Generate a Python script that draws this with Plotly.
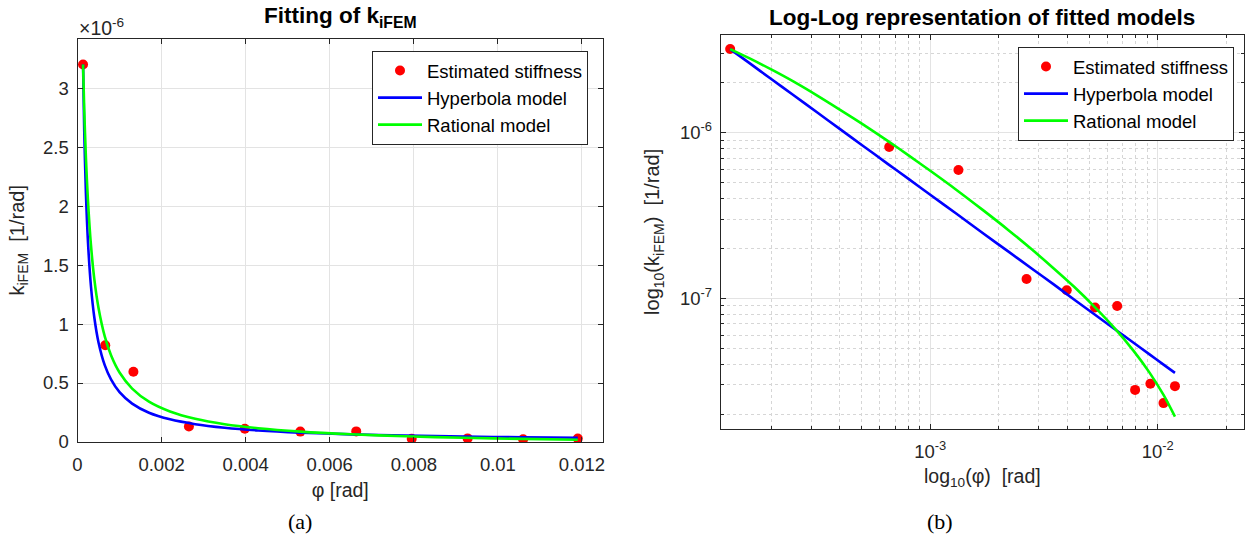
import plotly.graph_objects as go

# Estimated stiffness samples
phi_data = [1.32e-4, 6.6e-4, 1.33e-3, 2.65e-3, 3.98e-3, 5.3e-3, 6.63e-3, 7.95e-3, 9.28e-3, 1.06e-2, 1.19e-2]
k_data = [3.2e-6, 8.2e-7, 5.95e-7, 1.31e-7, 1.12e-7, 8.8e-8, 9.0e-8, 2.8e-8, 3.05e-8, 2.33e-8, 2.95e-8]

# Fitted model curves, sampled along phi
phi_fit = [1.32e-4, 1.6e-4, 2.0e-4, 2.5e-4, 3.2e-4, 4.0e-4, 5.0e-4, 6.5e-4, 8.0e-4, 1.0e-3, 1.3e-3,
           1.7e-3, 2.2e-3, 2.8e-3, 3.5e-3, 4.3e-3, 5.3e-3, 6.5e-3, 7.8e-3, 9.2e-3, 1.06e-2, 1.19e-2]
k_hyperbola = [3.20e-6, 2.64e-6, 2.11e-6, 1.69e-6, 1.32e-6, 1.055e-6, 8.44e-7, 6.49e-7, 5.28e-7, 4.22e-7, 3.25e-7,
               2.48e-7, 1.92e-7, 1.51e-7, 1.21e-7, 9.81e-8, 7.96e-8, 6.49e-8, 5.41e-8, 4.59e-8, 3.98e-8, 3.55e-8]
k_rational = [3.20e-6, 2.82e-6, 2.41e-6, 2.04e-6, 1.67e-6, 1.38e-6, 1.136e-6, 8.93e-7, 7.33e-7, 5.89e-7, 4.53e-7,
              3.42e-7, 2.59e-7, 1.97e-7, 1.51e-7, 1.17e-7, 8.82e-8, 6.54e-8, 4.85e-8, 3.56e-8, 2.61e-8, 1.93e-8]

# Tick values / labels
lin_xticks = [0, 0.002, 0.004, 0.006, 0.008, 0.01, 0.012]
lin_xtext = ["0", "0.002", "0.004", "0.006", "0.008", "0.01", "0.012"]
lin_yticks = [0, 0.5e-6, 1.0e-6, 1.5e-6, 2.0e-6, 2.5e-6, 3.0e-6]
lin_ytext = ["0", "0.5", "1", "1.5", "2", "2.5", "3"]
log_xticks = [1e-3, 1e-2]
log_xtext = ["10<sup>-3</sup>", "10<sup>-2</sup>"]
log_yticks = [1e-7, 1e-6]
log_ytext = ["10<sup>-7</sup>", "10<sup>-6</sup>"]
log_xminor = [2e-4, 3e-4, 4e-4, 5e-4, 6e-4, 7e-4, 8e-4, 9e-4,
              2e-3, 3e-3, 4e-3, 5e-3, 6e-3, 7e-3, 8e-3, 9e-3, 2e-2]
log_yminor = [2e-8, 3e-8, 4e-8, 5e-8, 6e-8, 7e-8, 8e-8, 9e-8,
              2e-7, 3e-7, 4e-7, 5e-7, 6e-7, 7e-7, 8e-7, 9e-7, 2e-6, 3e-6]

RED, BLUE, GREEN = "#ff0000", "#0000ff", "#00ff00"
INK = "#262626"
FONT = "Liberation Sans"

fig = go.Figure()

for xa, ya, lg in (("x", "y", "legend"), ("x2", "y2", "legend2")):
    fig.add_trace(go.Scatter(x=phi_data, y=k_data, mode="markers", name="Estimated stiffness",
                             marker=dict(color=RED, size=10), xaxis=xa, yaxis=ya, legend=lg))
    fig.add_trace(go.Scatter(x=phi_fit, y=k_hyperbola, mode="lines", name="Hyperbola model",
                             line=dict(color=BLUE, width=2.6, shape="spline", smoothing=0.8),
                             xaxis=xa, yaxis=ya, legend=lg))
    fig.add_trace(go.Scatter(x=phi_fit, y=k_rational, mode="lines", name="Rational model",
                             line=dict(color=GREEN, width=2.6, shape="spline", smoothing=0.8),
                             xaxis=xa, yaxis=ya, legend=lg))

W, H = 1254, 541


def px_x(v):
    return v / W


def px_y(v):
    return 1 - v / H


axis_common = dict(
    showline=True, linecolor=INK, linewidth=1, mirror="ticks",
    ticks="inside", ticklen=5, tickcolor=INK, tickwidth=1,
    showgrid=True, gridcolor="#e3e3e3", gridwidth=1, zeroline=False,
    tickfont=dict(family=FONT, size=18.5, color=INK), automargin=False,
    tickmode="array",
)

legend_common = dict(
    xanchor="right", yanchor="top", bgcolor="white", bordercolor=INK, borderwidth=1,
    font=dict(family=FONT, size=18.5, color="black"), itemwidth=44, tracegroupgap=0,
)

title_font = dict(family=FONT, size=22.5, color="black")

fig.update_layout(
    width=W, height=H,
    margin=dict(l=0, r=0, t=0, b=0),
    paper_bgcolor="white", plot_bgcolor="white",
    font=dict(family=FONT, color=INK),
    xaxis=dict(axis_common, domain=[px_x(77.5), px_x(603)], range=[0, 0.0125],
               tickvals=lin_xticks, ticktext=lin_xtext, anchor="y", ticklabelstandoff=6,
               title=dict(text="φ [rad]", font=dict(size=19.5, color=INK), standoff=9)),
    yaxis=dict(axis_common, domain=[px_y(442), px_y(38.5)], range=[0, 3.42e-6],
               tickvals=lin_yticks, ticktext=lin_ytext, anchor="x", ticklabelstandoff=4,
               title=dict(text="k<sub>iFEM</sub>  [1/rad]", font=dict(size=20, color=INK), standoff=13)),
    xaxis2=dict(axis_common, type="log", domain=[px_x(720.7), px_x(1244)], range=[-3.921, -1.621],
                tickvals=log_xticks, ticktext=log_xtext, anchor="y2", ticklabelstandoff=6,
                minor=dict(tickmode="array", tickvals=log_xminor, ticks="inside", ticklen=3, tickcolor=INK,
                           showgrid=True, gridcolor="#d6d6d6", griddash="dot"),
                title=dict(text="log<sub>10</sub>(φ)  [rad]", font=dict(size=19.5, color=INK), standoff=8)),
    yaxis2=dict(axis_common, type="log", domain=[px_y(429), px_y(34.7)], range=[-7.789, -5.408],
                tickvals=log_yticks, ticktext=log_ytext, anchor="x2", ticklabelstandoff=4,
                minor=dict(tickmode="array", tickvals=log_yminor, ticks="inside", ticklen=3, tickcolor=INK,
                           showgrid=True, gridcolor="#d6d6d6", griddash="dot"),
                title=dict(text="log<sub>10</sub>(k<sub>iFEM</sub>)  [1/rad]", font=dict(size=20, color=INK),
                           standoff=14)),
    legend=dict(legend_common, x=px_x(588), y=px_y(51)),
    legend2=dict(legend_common, x=px_x(1234), y=px_y(47)),
    annotations=[
        dict(text="<b>Fitting of k<sub>iFEM</sub></b>", x=px_x(340), y=px_y(17), xref="paper", yref="paper",
             showarrow=False, xanchor="center", yanchor="middle", font=title_font),
        dict(text="<b>Log-Log representation of fitted models</b>", x=px_x(982), y=px_y(18),
             xref="paper", yref="paper", showarrow=False, xanchor="center", yanchor="middle",
             font=title_font),
        dict(text="×10<sup>-6</sup>", x=px_x(77), y=px_y(27), xref="paper", yref="paper", showarrow=False,
             xanchor="left", yanchor="middle", font=dict(family=FONT, size=19.5, color=INK)),
        dict(text="(a)", x=px_x(300), y=px_y(521), xref="paper", yref="paper", showarrow=False,
             xanchor="center", yanchor="middle", font=dict(family="Liberation Serif", size=22, color="black")),
        dict(text="(b)", x=px_x(940), y=px_y(521), xref="paper", yref="paper", showarrow=False,
             xanchor="center", yanchor="middle", font=dict(family="Liberation Serif", size=22, color="black")),
    ],
)

fig.write_html("out.html")
